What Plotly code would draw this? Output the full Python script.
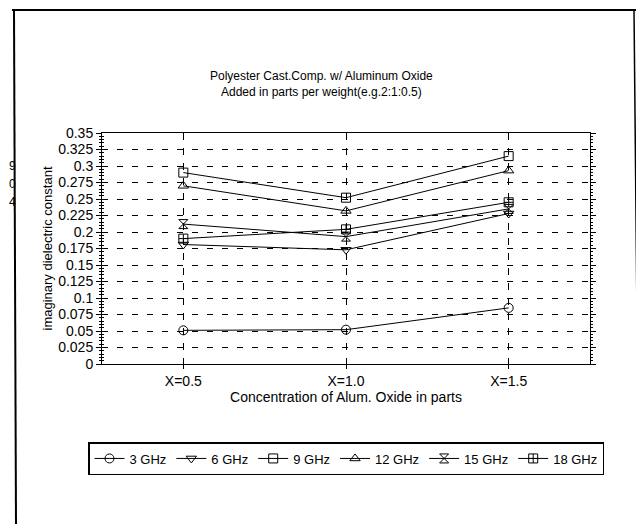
import plotly.graph_objects as go

# ---- data ----
categories = ["X=0.5", "X=1.0", "X=1.5"]
series_names = ["3 GHz", "6 GHz", "9 GHz", "12 GHz", "15 GHz", "18 GHz"]
ghz3 = [0.051, 0.052, 0.085]
ghz6 = [0.181, 0.173, 0.228]
ghz9 = [0.290, 0.252, 0.315]
ghz12 = [0.270, 0.232, 0.293]
ghz15 = [0.212, 0.193, 0.235]
ghz18 = [0.190, 0.204, 0.245]
y_tick_vals = [0, 0.025, 0.05, 0.075, 0.1, 0.125, 0.15, 0.175, 0.2, 0.225, 0.25,
               0.275, 0.3, 0.325, 0.35]
y_tick_text = ["0", "0.025", "0.05", "0.075", "0.1", "0.125", "0.15", "0.175", "0.2",
               "0.225", "0.25", "0.275", "0.3", "0.325", "0.35"]

series_values = [ghz3, ghz6, ghz9, ghz12, ghz15, ghz18]
symbols = ["circle-open", "triangle-down-open", "square-open", "triangle-up-open",
           "hourglass-open", "square-cross-open"]

# page body adds an 8px margin; work in page pixels and subtract it
OFF = 8
W, H = 644 - OFF, 524 - OFF
L, R, T, B = 102 - OFF, 590 - OFF, 133 - OFF, 364 - OFF
FONT = "Liberation Sans, Arial, sans-serif"


def px(x):
    return (x - OFF - L) / (R - L)


def py(y):
    return (B - (y - OFF)) / (B - T)


fig = go.Figure()
for name, vals, sym in zip(series_names, series_values, symbols):
    fig.add_trace(go.Scatter(
        x=categories, y=vals, name=name, mode="lines+markers",
        line=dict(color="black", width=1),
        marker=dict(symbol=sym, size=9, color="black", line=dict(width=1, color="black")),
    ))

# invisible trace on overlay axes for inside (crossing) ticks
fig.add_trace(go.Scatter(x=categories, y=ghz3, yaxis="y2", xaxis="x2", mode="lines",
                         line=dict(width=0), showlegend=False, hoverinfo="skip", opacity=0))

fig.update_layout(
    width=W, height=H,
    margin=dict(l=L, r=W - R, t=T, b=H - B),
    paper_bgcolor="white", plot_bgcolor="white",
    font=dict(family=FONT, size=14, color="black"),
    showlegend=True,
    legend=dict(orientation="h", xref="paper", yref="paper",
                x=px(88), y=py(442), xanchor="left", yanchor="top",
                bordercolor="black", borderwidth=1.5, bgcolor="white",
                font=dict(size=13, family=FONT), itemwidth=30, tracegroupgap=0),
    xaxis=dict(type="category", range=[-0.5, 2.5], showline=True, linecolor="black",
               linewidth=1, mirror=True, ticks="outside", ticklen=4, tickcolor="black",
               showgrid=True, gridcolor="black", gridwidth=1, griddash="7px,8px",
               title=dict(text="Concentration of Alum. Oxide in parts", standoff=0,
                          font=dict(size=14)),
               tickfont=dict(size=14)),
    yaxis=dict(range=[0, 0.35], tickvals=y_tick_vals, ticktext=y_tick_text,
               showline=True, linecolor="black", linewidth=1, mirror="ticks",
               ticks="outside", ticklen=5, tickcolor="black",
               showgrid=True, gridcolor="black", gridwidth=1, griddash="6px,9px",
               zeroline=False,
               minor=dict(dtick=0.005, ticks="outside", ticklen=2, tickcolor="black",
                          showgrid=False),
               title=dict(text="imaginary dielectric constant", standoff=2,
                          font=dict(size=13)),
               tickfont=dict(size=14)),
    xaxis2=dict(type="category", range=[-0.5, 2.5], overlaying="x", side="bottom",
                ticks="inside", ticklen=5, tickcolor="black", showticklabels=False,
                showgrid=False, showline=False),
    yaxis2=dict(range=[0, 0.35], tickvals=y_tick_vals, overlaying="y", side="left",
                ticks="inside", ticklen=5, tickcolor="black", showticklabels=False,
                showgrid=False, showline=False, zeroline=False,
                minor=dict(dtick=0.005, ticks="inside", ticklen=2, tickcolor="black")),
)

# titles
fig.add_annotation(text="Polyester Cast.Comp. w/ Aluminum Oxide<br>Added in parts per weight(e.g.2:1:0.5)",
                   xref="paper", yref="paper", x=px(321), y=py(84), showarrow=False,
                   font=dict(size=12, family=FONT), xanchor="center", yanchor="middle")

# stray scan digits at the far left edge
for ch, yy in zip(["9", "0", "4"], [166, 184, 202]):
    fig.add_annotation(text=ch, xref="paper", yref="paper", x=px(8), y=py(yy),
                       showarrow=False, font=dict(size=12, family=FONT),
                       xanchor="left", yanchor="middle", borderpad=0)

# outer frame of the page
fig.add_shape(type="line", xref="paper", yref="paper", x0=px(12), y0=py(10),
              x1=px(636), y1=py(10), line=dict(color="black", width=2))
fig.add_shape(type="line", xref="paper", yref="paper", x0=px(14), y0=py(10),
              x1=px(16), y1=py(524), line=dict(color="black", width=2))
fig.add_shape(type="line", xref="paper", yref="paper", x0=px(634), y0=py(10),
              x1=px(639), y1=py(524), line=dict(color="black", width=1.5))

fig.write_html("out.html")
